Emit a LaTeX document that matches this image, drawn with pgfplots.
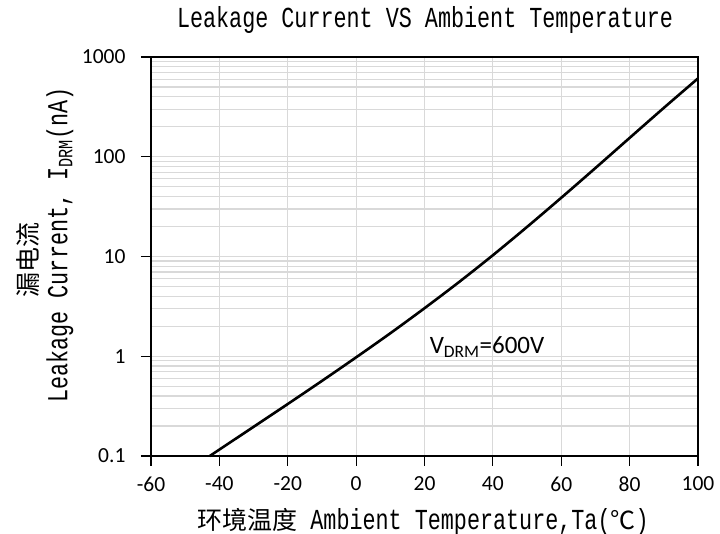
\documentclass[border=0pt]{standalone}
\usepackage{pgfplots}
\pgfplotsset{compat=1.18}
\usepackage{fontspec}
\setmainfont{Carlito}
\newfontfamily\monof[FakeStretch=0.75]{Liberation Mono}
\newfontfamily\cjk{Noto Sans CJK SC}
\pgfplotstableread{
x y
-42.8 0.1
-40 0.116
-30 0.196
-20 0.332
-10 0.566
0 0.975
10 1.70
20 3.03
30 5.51
40 10.3
50 19.8
60 38.8
70 77.1
80 154.5
90 309
100 610
}\curve
\begin{document}
\begin{tikzpicture}
\useasboundingbox (-151pt,-78pt) rectangle (569pt,456pt);
\begin{axis}[
  scale only axis,
  width=547pt, height=399pt,
  ymode=log,
  xmin=-60, xmax=100, ymin=0.1, ymax=1000,
  xtick={-60,-40,...,100},
  ytick={0.1,1,10,100,1000},
  yticklabels={0.1,1,10,100,1000},
  xmajorgrids=true, ymajorgrids=true, yminorgrids=true,
  major grid style={draw=black!15, line width=1.2pt},
  minor grid style={draw=black!15, line width=1.2pt},
  axis line style={line width=1.2pt, black},
  tick style={line width=1.2pt, black},
  major tick length=10pt, minor tick length=0pt,
  tick align=outside, tick pos=left,
  tick label style={font=\fontsize{21.5}{24}\selectfont},
  yticklabel style={xshift=-12pt},
  xticklabel style={yshift=-7pt},
  /pgf/number format/assume math mode=true,
  clip=false,
]
\addplot[black, line width=2.6pt, smooth, tension=0.5] table[x=x,y=y] {\curve};
\node[font=\fontsize{25}{28}\selectfont] at (axis cs:38.3,1.23) {V\textsubscript{DRM}=600V};
\end{axis}
\node[font=\monof\fontsize{29}{32}\selectfont] at (274pt,436pt) {Leakage Current VS Ambient Temperature};
\node[font=\monof\fontsize{29}{32}\selectfont] at (272pt,-66pt) {{\cjk\fontsize{25}{28}\selectfont 环境温度} Ambient Temperature,Ta({\cjk\fontsize{25}{28}\selectfont ℃})};
\node[rotate=90, font=\cjk\fontsize{25}{28}\selectfont] at (-123pt,196pt) {漏电流};
\node[rotate=90, font=\monof\fontsize{29}{32}\selectfont] at (-91pt,211pt) {Leakage Current, I\textsubscript{DRM}(nA)};
\end{tikzpicture}
\end{document}
